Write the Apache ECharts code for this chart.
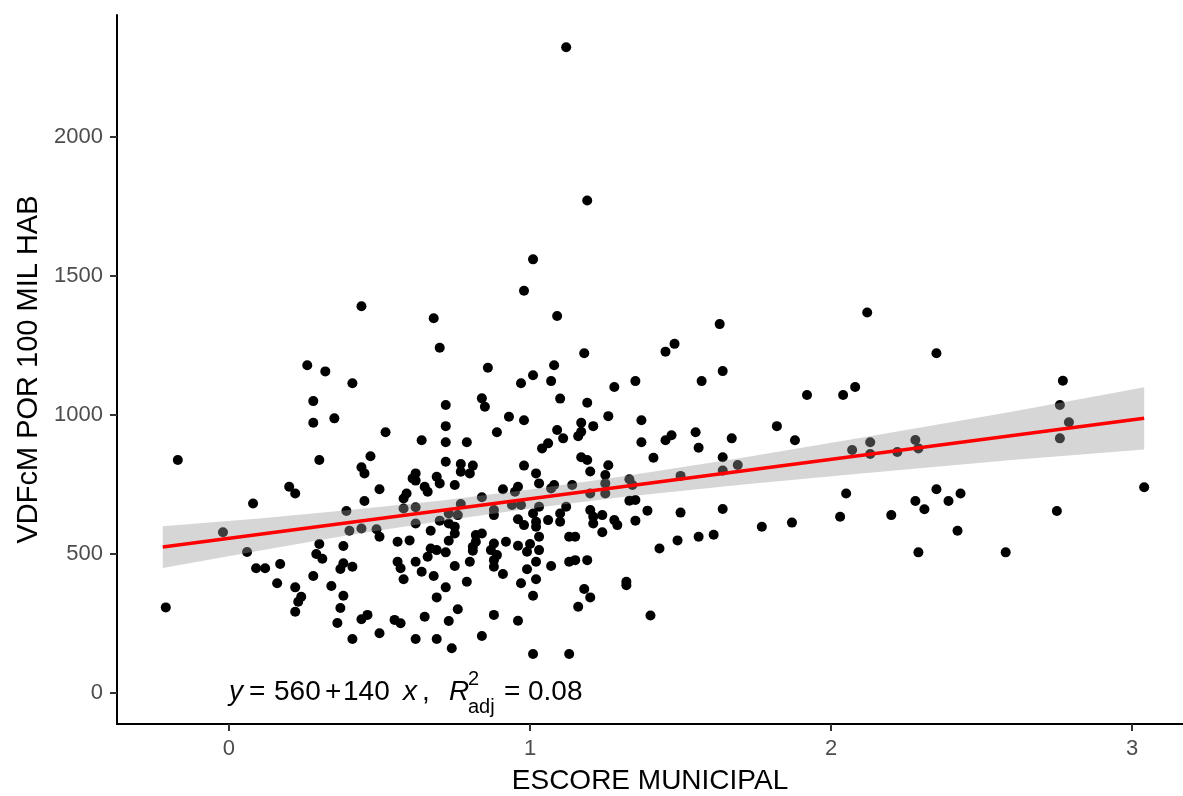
<!DOCTYPE html>
<html>
<head>
<meta charset="utf-8">
<script src="https://cdn.jsdelivr.net/npm/echarts@6.0.0/dist/echarts.min.js"></script>
<style>
  html, body { margin: 0; padding: 0; background: #fff; }
  #chart { width: 1183px; height: 796px; }
</style>
</head>
<body>
<div id="chart"></div>
<script>
// escore municipal (x) and VDFcM por 100 mil hab (y)
const escore = [
  1.12, 1.19, 1.01, 0.98,
  0.26, 0.32, 0.28, 0.28, 0.35, 0.30, -0.17,
  0.44, 0.68, 0.70, 0.86, 1.01, 0.97, 0.41, 0.72, 0.84, 0.85, 0.93, 0.98, 0.72, 0.52, 0.89, 0.64, 0.72, 0.79, 0.47, 0.44, 0.45, 0.72, 0.77, 0.81, 0.77, 0.80, 0.62, 0.61, 0.69, 0.98, 1.02,
  1.09, 1.63, 1.48, 1.45, 1.18, 1.08, 1.64, 1.07, 1.35, 1.57, 1.28, 1.10, 1.19, 1.26, 1.37, 1.17, 1.21, 1.09, 1.11, 1.17, 1.16, 1.55, 1.47, 1.45, 1.37, 1.67, 1.56, 1.06, 1.04, 1.41, 1.64, 1.17, 1.19, 1.26, 1.20, 1.25, 1.33, 1.50, 1.64, 1.69,
  2.12, 2.35, 2.77, 1.92, 2.04, 2.08, 1.82, 1.88, 2.76, 2.79, 2.76, 2.07, 2.13, 2.13, 2.22, 2.28, 2.29,
  0.20, 0.22, 0.08, -0.02, 0.06, 0.09, 0.12, 0.17, 0.16, 0.22, 0.24, 0.23, 0.22, 0.28, 0.30, 0.29, 0.31, 0.34, 0.38, 0.37, 0.37, 0.36, -0.21,
  0.50, 0.62, 0.65, 0.66, 0.70, 0.75, 0.59, 0.58, 0.45, 0.39, 0.58, 0.62, 0.84, 0.77, 0.73, 0.76, 0.70, 0.62, 0.40, 0.44, 0.49, 0.50, 0.73, 0.75, 0.67, 0.75, 0.73, 0.56, 0.60, 0.84, 0.82, 0.82, 0.81, 0.81, 0.67, 0.69, 0.72, 0.66, 0.56, 0.62, 0.41, 0.38, 0.80, 0.75, 0.57, 0.64, 0.68, 0.58, 0.79, 0.72, 0.38, 0.69, 0.76, 0.46, 0.44, 0.55, 0.57, 0.65, 0.73, 0.50, 0.41, 0.62, 0.69, 0.74, 0.84,
  0.91, 0.96, 0.95, 1.03, 1.08, 1.07, 1.14, 1.25, 1.20, 1.25, 1.34, 0.88, 0.94, 0.97, 1.03, 1.12, 1.10, 1.33, 1.35, 0.88, 0.96, 0.98, 1.01, 1.02, 1.02, 1.06, 1.10, 1.20, 1.21, 1.24, 1.21, 1.28, 1.29, 1.35, 1.24, 1.03, 1.13, 1.15, 0.88, 0.92, 0.96, 1.00, 0.99, 1.03, 0.87, 0.89, 0.88, 1.02, 1.13, 1.15, 1.19, 1.07, 0.88, 0.91, 0.99, 1.02, 0.97, 1.18, 1.20, 1.32, 1.32, 1.01, 1.16, 0.88, 0.96, 1.01, 1.13,
  1.39, 1.50, 1.64, 1.43, 1.49, 1.56, 1.61, 1.77, 1.87, 2.03, 1.40,
  2.05, 2.20, 2.28, 2.31, 2.35, 2.39, 2.43, 2.42, 2.29, 2.58, 2.75, 3.04
];
const vdf = [
  2323, 1772, 1560, 1447,
  1179, 1157, 1050, 972, 988, 838, 838,
  1391, 1348, 1242, 1170, 1143, 1114, 1114, 1036, 1060, 1030, 994, 981, 960, 938, 938, 909, 902, 902, 852, 812, 790, 832, 824, 818, 796, 790, 790, 772, 778, 818, 790,
  1356, 1327, 1256, 1228, 1222, 1179, 1158, 1122, 1122, 1122, 1101, 1059, 1044, 996, 981, 972, 960, 946, 916, 940, 924, 938, 927, 909, 902, 916, 882, 898, 880, 846, 848, 848, 838, 819, 797, 784, 769, 781, 800, 820,
  1369, 1222, 1123, 1072, 1072, 1101, 960, 909, 1036, 974, 916, 874, 902, 860, 867, 910, 880,
  742, 718, 682, 578, 507, 449, 449, 464, 395, 380, 346, 328, 292, 421, 536, 500, 483, 385, 529, 446, 306, 252, 308,
  733, 764, 742, 724, 754, 748, 718, 700, 691, 655, 664, 668, 704, 680, 646, 640, 620, 610, 584, 592, 589, 562, 610, 598, 584, 574, 548, 544, 549, 574, 568, 544, 526, 512, 520, 514, 506, 490, 472, 472, 454, 467, 472, 457, 449, 436, 421, 409, 400, 380, 350, 344, 301, 281, 265, 263, 251, 274, 259, 215, 194, 194, 194, 161, 205,
  733, 742, 724, 754, 748, 736, 748, 754, 718, 718, 748, 658, 676, 676, 670, 670, 646, 692, 694, 640, 625, 604, 646, 616, 598, 622, 616, 658, 634, 640, 610, 622, 604, 620, 578, 562, 562, 562, 538, 544, 530, 536, 508, 514, 514, 496, 478, 472, 472, 478, 478, 457, 454, 428, 445, 409, 395, 374, 344, 400, 388, 350, 310, 281, 260, 140, 140,
  656, 649, 662, 520, 549, 562, 569, 598, 613, 634, 279,
  718, 640, 691, 661, 733, 691, 718, 584, 506, 506, 655, 740
];

// fitted line ends and confidence band
const fitX = [-0.22, 3.04];
const fitY = [525, 988];
const bandX = [-0.22, 0.1, 0.4, 0.7, 1.0, 1.3, 1.7, 2.1, 2.6, 3.04];
const bandUpper = [600, 628, 658, 692, 732, 778, 845, 918, 1012, 1100];
const bandLower = [450, 512, 568, 618, 664, 704, 749, 790, 838, 876];

const xTicks = [0, 1, 2, 3];
const yTicks = [0, 500, 1000, 1500, 2000];

const font = "'Liberation Sans', Arial, sans-serif";
const points = escore.map((x, i) => [x, vdf[i]]);

const chart = echarts.init(document.getElementById('chart'));

const eqStyle = (text, x, y, size, italic) => ({
  type: 'text',
  x: x,
  y: y,
  silent: true,
  style: {
    text: text,
    fill: '#000',
    font: (italic ? 'italic ' : '') + size + 'px ' + font,
    align: 'left',
    verticalAlign: 'middle'
  }
});

chart.setOption({
  animation: false,
  backgroundColor: '#fff',
  grid: {
    left: 117,
    top: 15,
    width: 1066,
    height: 709,
    containLabel: false,
    outerBoundsMode: 'none'
  },
  xAxis: {
    type: 'value',
    min: -0.372,
    max: 3.169,
    name: 'ESCORE MUNICIPAL',
    nameLocation: 'middle',
    nameGap: 43,
    nameTextStyle: { color: '#000', fontSize: 28, fontFamily: font },
    axisLine: { show: true, onZero: false, lineStyle: { color: '#000', width: 2 } },
    axisTick: { show: true, customValues: xTicks, length: 7, lineStyle: { color: '#333', width: 2 } },
    axisLabel: { customValues: xTicks, color: '#4d4d4d', fontSize: 22, fontFamily: font, margin: 14,
      formatter: v => String(v) },
    splitLine: { show: false }
  },
  yAxis: {
    type: 'value',
    min: -111.5,
    max: 2439,
    name: 'VDFcM POR 100 MIL HAB',
    nameLocation: 'middle',
    nameGap: 68,
    nameTextStyle: { color: '#000', fontSize: 29, fontFamily: font },
    axisLine: { show: true, onZero: false, lineStyle: { color: '#000', width: 2 } },
    axisTick: { show: true, customValues: yTicks, length: 7, lineStyle: { color: '#333', width: 2 } },
    axisLabel: { customValues: yTicks, color: '#4d4d4d', fontSize: 22, fontFamily: font, margin: 14,
      formatter: v => String(v) },
    splitLine: { show: false }
  },
  series: [
    {
      type: 'scatter',
      data: points,
      symbolSize: 10,
      itemStyle: { color: '#000', opacity: 1 },
      z: 2,
      silent: true
    },
    {
      type: 'custom',
      z: 3,
      silent: true,
      data: [[bandX[0], bandUpper[0]]],
      renderItem: function (params, api) {
        const pts = [];
        for (let i = 0; i < bandX.length; i++) pts.push(api.coord([bandX[i], bandUpper[i]]));
        for (let i = bandX.length - 1; i >= 0; i--) pts.push(api.coord([bandX[i], bandLower[i]]));
        return {
          type: 'polygon',
          shape: { points: pts },
          style: { fill: 'rgba(153,153,153,0.4)' }
        };
      }
    },
    {
      type: 'line',
      data: fitX.map((x, i) => [x, fitY[i]]),
      symbol: 'none',
      lineStyle: { color: '#ff0000', width: 3.5 },
      z: 4,
      silent: true
    }
  ],
  graphic: [
    eqStyle('y', 229, 692, 28, true),
    eqStyle('=', 249, 692, 28, false),
    eqStyle('560', 274, 692, 28, false),
    eqStyle('+', 325, 692, 28, false),
    eqStyle('140', 343, 692, 28, false),
    eqStyle('x', 403, 692, 28, true),
    eqStyle(',', 422, 692, 28, false),
    eqStyle('R', 449, 692, 28, true),
    eqStyle('2', 468, 679, 20, false),
    eqStyle('adj', 468, 707, 20, false),
    eqStyle('=', 504, 692, 28, false),
    eqStyle('0.08', 528, 692, 28, false)
  ]
});
</script>
</body>
</html>
